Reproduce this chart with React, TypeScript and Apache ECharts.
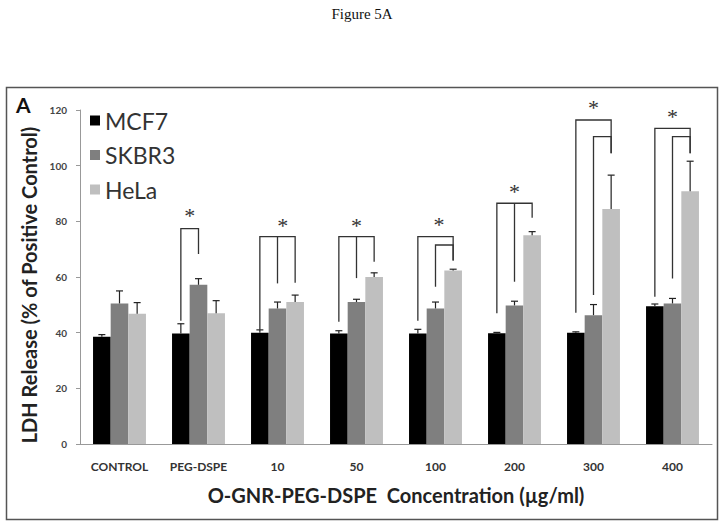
import React, { useEffect, useRef } from "react";
import * as echarts from "echarts";

const categories = ["CONTROL", "PEG-DSPE", "10", "50", "100", "200", "300", "400"];
const seriesNames = ["MCF7", "SKBR3", "HeLa"];
const seriesColors = ["#000000", "#7f7f7f", "#bfbfbf"];
const mcf7 = [38.5, 39.7, 40.0, 39.7, 39.7, 39.8, 40.0, 49.5];
const skbr3 = [50.5, 57.2, 48.7, 51.0, 48.7, 49.8, 46.3, 50.5];
const hela = [46.8, 47.0, 51.0, 60.0, 62.3, 75.0, 84.4, 90.8];
const mcf7Err = [0.8, 3.5, 1.0, 1.0, 1.5, 0.3, 0.3, 0.8];
const skbr3Err = [4.5, 2.2, 2.3, 1.0, 2.3, 1.5, 3.8, 1.8];
const helaErr = [4.0, 4.5, 2.5, 1.5, 0.5, 1.3, 12.2, 10.8];
const yTicks = { min: 0, max: 120, interval: 20 };

// brackets: [category, fromSeries, toSeries, topY, fromEndY, toEndY, midSeries(-1 none), midEndY]
const brackets = [
  [1, 0, 1, 77.4, 44.3, 68.3, -1, 0],
  [2, 0, 2, 74.5, 41.0, 57.9, 1, 57.7],
  [3, 0, 2, 74.5, 43.9, 65.5, 1, 59.6],
  [4, 0, 2, 74.5, 44.3, 65.9, -1, 0],
  [4, 1, 2, 71.5, 56.5, 65.9, -1, 0],
  [5, 0, 2, 86.5, 47.0, 81.3, 1, 58.3],
  [6, 0, 2, 116.4, 47.2, 104.5, -1, 0],
  [6, 1, 2, 110.4, 53.5, 104.5, -1, 0],
  [7, 0, 2, 113.4, 52.9, 104.5, -1, 0],
  [7, 1, 2, 110.4, 59.5, 104.5, -1, 0],
];
// significance stars: [category, seriesPosition, y]
const stars = [
  [1, 0.5, 84.1],
  [2, 1.3, 80.7],
  [3, 1.0, 80.5],
  [4, 1.2, 81.1],
  [5, 1.0, 92.8],
  [6, 1.0, 123.0],
  [7, 1.0, 119.8],
];

const CAT_GAP = 0.33;

export default function App() {
  const ref = useRef<HTMLDivElement>(null);
  useEffect(() => {
    const chart = echarts.init(ref.current!, null, { renderer: "svg" });
    const values = [mcf7, skbr3, hela];
    const errs = [mcf7Err, skbr3Err, helaErr];
    const errData: number[][] = [];
    values.forEach((arr, s) =>
      arr.forEach((v, c) => errData.push([c, v, errs[s][c], s]))
    );
    const barX = (api: any, cat: number, pos: number, y: number) => {
      const p = api.coord([cat, y]);
      const band = api.size([1, 0])[0];
      const bw = (band * (1 - CAT_GAP)) / 3;
      return [p[0] + (pos - 1) * bw, p[1]];
    };
    const font = "Lato, 'Open Sans', sans-serif";
    chart.setOption({
      animation: false,
      backgroundColor: "#ffffff",
      graphic: [
        {
          type: "text",
          left: "center",
          top: 6,
          style: { text: "Figure 5A", font: "15px 'Liberation Serif', serif", fill: "#111" },
        },
        {
          type: "rect",
          shape: { x: 6.5, y: 87.5, width: 711, height: 432 },
          style: { fill: "none", stroke: "#555", lineWidth: 1.5 },
        },
        {
          type: "text",
          left: 16,
          top: 94,
          style: { text: "A", font: "bold 21px " + font, fill: "#111" },
        },
      ],
      legend: {
        orient: "vertical",
        left: 85,
        top: 104,
        itemWidth: 10,
        itemHeight: 10,
        itemGap: 11.5,
        icon: "rect",
        data: seriesNames,
        textStyle: { fontFamily: font, fontSize: 23, color: "#333", lineHeight: 23 },
      },
      grid: { left: 80, right: 12, top: 110, bottom: 82 },
      xAxis: {
        type: "category",
        data: categories,
        name: "O-GNR-PEG-DSPE  Concentration (µg/ml)",
        nameLocation: "middle",
        nameGap: 41,
        nameTextStyle: { fontFamily: font, fontWeight: "bold", fontSize: 20, color: "#222" },
        axisLine: { lineStyle: { color: "#999" } },
        axisTick: { length: 4, lineStyle: { color: "#999" } },
        axisLabel: { margin: 16, fontFamily: font, fontWeight: "bold", fontSize: 12, color: "#333" },
      },
      yAxis: {
        type: "value",
        min: yTicks.min,
        max: yTicks.max,
        interval: yTicks.interval,
        name: "LDH Release (% of Positive Control)",
        nameLocation: "middle",
        nameGap: 38,
        nameTextStyle: {
          fontFamily: font,
          fontWeight: "bold",
          fontSize: 20,
          color: "#222",
          padding: [0, 16, 0, 0],
        },
        splitLine: { show: false },
        axisLine: { show: true, lineStyle: { color: "#999" } },
        axisTick: { show: true, length: 4, lineStyle: { color: "#999" } },
        axisLabel: { margin: 13, fontFamily: font, fontWeight: "bold", fontSize: 10, color: "#444" },
      },
      series: [
        ...values.map((arr, s) => ({
          name: seriesNames[s],
          type: "bar",
          data: arr,
          barGap: "0%",
          barCategoryGap: CAT_GAP * 100 + "%",
          itemStyle: { color: seriesColors[s] },
        })),
        {
          type: "custom",
          data: errData,
          z: 5,
          renderItem: (params: any, api: any) => {
            const cat = api.value(0);
            const v = api.value(1);
            const e = api.value(2);
            const s = api.value(3);
            const b = barX(api, cat, s, v);
            const t = barX(api, cat, s, v + e);
            return {
              type: "group",
              children: [
                { type: "line", shape: { x1: b[0], y1: b[1], x2: t[0], y2: t[1] }, style: { stroke: "#222", lineWidth: 1.2 } },
                { type: "line", shape: { x1: t[0] - 3.5, y1: t[1], x2: t[0] + 3.5, y2: t[1] }, style: { stroke: "#222", lineWidth: 1.2 } },
              ],
            };
          },
        },
        {
          type: "custom",
          data: brackets,
          clip: false,
          z: 6,
          renderItem: (params: any, api: any) => {
            const cat = api.value(0);
            const from = api.value(1);
            const to = api.value(2);
            const top = api.value(3);
            const a = barX(api, cat, from, api.value(4));
            const at = barX(api, cat, from, top);
            const bt = barX(api, cat, to, top);
            const b = barX(api, cat, to, api.value(5));
            const children: any[] = [
              {
                type: "polyline",
                shape: { points: [a, at, bt, b] },
                style: { stroke: "#333", lineWidth: 1.3, fill: "none" },
              },
            ];
            const mid = api.value(6);
            if (mid >= 0) {
              const mt = barX(api, cat, mid, top);
              const mb = barX(api, cat, mid, api.value(7));
              children.push({
                type: "line",
                shape: { x1: mt[0], y1: mt[1], x2: mb[0], y2: mb[1] },
                style: { stroke: "#333", lineWidth: 1.3 },
              });
            }
            return { type: "group", children };
          },
        },
        {
          type: "custom",
          data: stars,
          clip: false,
          z: 6,
          renderItem: (params: any, api: any) => {
            const p = barX(api, api.value(0), api.value(1), api.value(2));
            return {
              type: "text",
              x: p[0],
              y: p[1] + 6,
              style: {
                text: "*",
                font: "22px 'Liberation Serif', serif",
                fill: "#333",
                align: "center",
                verticalAlign: "middle",
              },
            };
          },
        },
      ],
    });
    return () => chart.dispose();
  }, []);
  return (
    <div
      ref={ref}
      style={{ position: "fixed", left: 0, top: 0, width: 724, height: 526 }}
    />
  );
}
